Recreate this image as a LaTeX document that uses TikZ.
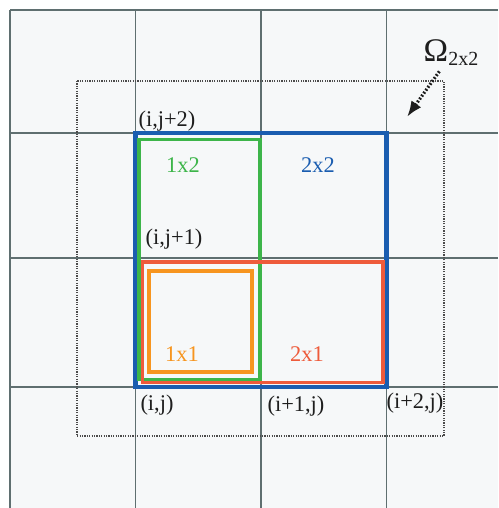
\documentclass[tikz,border=0pt]{standalone}
\usepackage{fontspec}
\setmainfont{Liberation Serif}
\usepackage{tikz}
\usetikzlibrary{arrows.meta,positioning}
\definecolor{gdBack}{HTML}{F6F8F9}
\definecolor{gdGrid}{HTML}{5F6F70}
\definecolor{gdBlue}{HTML}{1A5DB0}
\definecolor{gdGreen}{HTML}{3DB54A}
\definecolor{gdRed}{HTML}{EE5B3B}
\definecolor{gdOrange}{HTML}{F7951F}
\definecolor{gdInk}{HTML}{1E1E1E}
\tikzset{
  gd diagram/.style={x=0.5pt, y=-0.5pt, font=\fontsize{11.2}{13}\selectfont,
    text=gdInk, line join=miter},
  gd grid/.style={draw=gdGrid, line width=0.6pt},
  gd cell/.style={line width=1.8pt},
  gd window/.style={draw=gdInk!80, line width=0.9pt,
    dash pattern=on 0.6pt off 0.6pt},
  gd label/.style={inner sep=0pt},
  gd arrow/.style={-{Latex[length=2.8mm,width=2.1mm]}, draw=gdInk,
    line width=1.6pt, dash pattern=on 0.9pt off 0.9pt}
}

\begin{document}
\begin{tikzpicture}[gd diagram]
\useasboundingbox (0,0) rectangle (498,508);
\fill[gdBack] (10,10) rectangle (498,508);
% cell grid
\foreach \gx in {10,135.5,261,386.5}
  \draw[gd grid] (\gx,10) -- (\gx,508);
\foreach \gy in {10,133,258,387}
  \draw[gd grid] (10,\gy) -- (498,\gy);
\draw[gd window] (77,81) rectangle (444,436);
% candidate blocks
\draw[gd cell, draw=gdBlue, line width=2.2pt] (135.5,133) rectangle (386.5,387);
\draw[gd cell, draw=gdGreen, line width=1.6pt] (139,139.5) rectangle (260,379.5);
\draw[gd cell, draw=gdRed] (142.5,262) rectangle (383,382.5);
\draw[gd cell, draw=gdOrange] (149,271) rectangle (252,372);
\node[gd label, text=gdGreen] (onetwo) at (183,165) {1x2};
\node[gd label, text=gdBlue] (twotwo) at (318,165) {2x2};
\node[gd label, text=gdOrange] (oneone) at (182,354) {1x1};
\node[gd label, text=gdRed] (twoone) at (307,354) {2x1};
\node[gd label] (ijtwo) at (167,121) {(i,j+2)};
\node[gd label] (ijone) at (174,239) {(i,j+1)};
\node[gd label] (ij) at (157,405) {(i,j)};
\node[gd label] (ionej) at (296,406) {(i+1,j)};
\node[gd label] (itwoj) at (415,403) {(i+2,j)};
\node[gd label] (omega) at (451,53) {{\fontsize{16.5}{16}\selectfont Ω}{\fontsize{10}{10}\selectfont\raisebox{-0.45ex}{2x2}}};
\coordinate (omegatip) at (407,117);
\draw[gd arrow] (omega.south west) ++(16,5) -- (omegatip);
\end{tikzpicture}
\end{document}
